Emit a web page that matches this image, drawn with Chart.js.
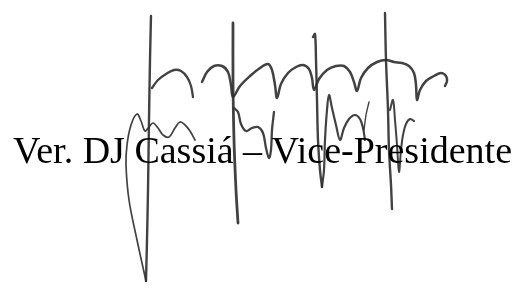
<!DOCTYPE html>
<html>
<head>
<meta charset="utf-8">
<script src="https://cdn.jsdelivr.net/npm/chart.js@4/dist/chart.umd.min.js"></script>
<style>
  html, body { margin: 0; padding: 0; background: #fff; }
  #sig { display: block; }
</style>
</head>
<body>
<canvas id="sig" width="525" height="293"></canvas>
<script>
// caption under the signature
const caption = "Ver. DJ Cassiá – Vice-Presidente";
const captionAt = [13, 163];

// pen strokes as [x, y] (y grows downward)
const stem1 = [[151,16],[150,60],[149,120],[148,190],[147,240],[146,281]];
const loop1 = [[146,281],[137,240],[129,200],[126,165],[127,145],[131,125],[137,114],[141,121],[145,131],
               [149,127],[153,123],[158,128],[163,135],[169,137],[175,128],[180,122],[185,125],[190,131],[195,140]];
const arc1 = [[152,88],[158,80],[166,74],[174,70],[181,71],[187,77],[191,86],[193,97]];
const stem2 = [[233,23],[233,80],[234,140],[236,190],[238,223]];
const arcs = [[202,82],[207,72],[214,66],[222,66],[228,72],[231,85],[233,97],[240,86],[250,76],[260,68],
              [268,64],[272,70],[275,85],[277,98],[281,84],[288,73],[296,67],[303,65],[309,69],[312,78],
              [314,90],[319,79],[327,70],[336,66],[344,66],[350,72],[354,82],[357,91],[361,78],[368,68],
              [377,62],[386,60],[394,62],[402,63],[409,66],[414,73],[416,85],[417,100],[420,90],[426,81],
              [434,76],[441,73],[446,76],[447,81],[445,86]];
const hookV = [[234,108],[238,112],[241,124],[246,131],[252,128],[258,127],[263,133],[266,148],[269,158],
               [271,150],[272,130],[274,112]];
const stem3 = [[313,37],[315,34],[316,60],[317,100],[318,140],[320,170],[322,187]];
const wave3 = [[322,187],[324,170],[325,140],[327,110],[329,95],[332,108],[336,125],[340,140],[344,128],
               [349,119],[355,115],[360,119],[363,128],[365,140]];
const tick3 = [[369,102],[366,115],[364,130]];
const stem4 = [[385,13],[386,60],[388,110],[389,150],[391,185],[392,209]];
const wave4 = [[390,110],[393,100],[395,120],[397,145],[399,172],[401,150],[403,135],[406,124],[410,119],[414,121]];

const strokes = [
  { pts: stem1, w: 2.4 }, { pts: loop1, w: 1.7 }, { pts: arc1, w: 2.3 },
  { pts: stem2, w: 2.8 }, { pts: arcs, w: 2.5 }, { pts: hookV, w: 2.3 },
  { pts: stem3, w: 2.4 }, { pts: wave3, w: 2.2 }, { pts: tick3, w: 1.4 },
  { pts: stem4, w: 2.4 }, { pts: wave4, w: 2.0 }
];

const inkColor = "rgba(45,45,45,0.9)";

const captionPlugin = {
  id: "caption",
  afterDatasetsDraw(chart) {
    const ctx = chart.ctx;
    const x = chart.scales.x.getPixelForValue(captionAt[0]);
    const y = chart.scales.y.getPixelForValue(captionAt[1]);
    ctx.save();
    ctx.font = "38px 'Liberation Serif', 'Times New Roman', serif";
    ctx.fillStyle = "#000";
    ctx.textBaseline = "alphabetic";
    ctx.fillText(caption, x, y);
    ctx.restore();
  }
};

new Chart(document.getElementById("sig"), {
  type: "scatter",
  data: {
    datasets: strokes.map(s => ({
      data: s.pts.map(p => ({ x: p[0], y: p[1] })),
      showLine: true,
      borderColor: inkColor,
      borderWidth: s.w,
      pointRadius: 0,
      tension: 0.35,
      borderCapStyle: "round",
      borderJoinStyle: "round"
    }))
  },
  options: {
    responsive: false,
    animation: false,
    layout: { padding: 0 },
    plugins: { legend: { display: false }, tooltip: { enabled: false } },
    scales: {
      x: { type: "linear", min: 0, max: 525, display: false },
      y: { type: "linear", min: 0, max: 293, reverse: true, display: false }
    }
  },
  plugins: [captionPlugin]
});
</script>
</body>
</html>
